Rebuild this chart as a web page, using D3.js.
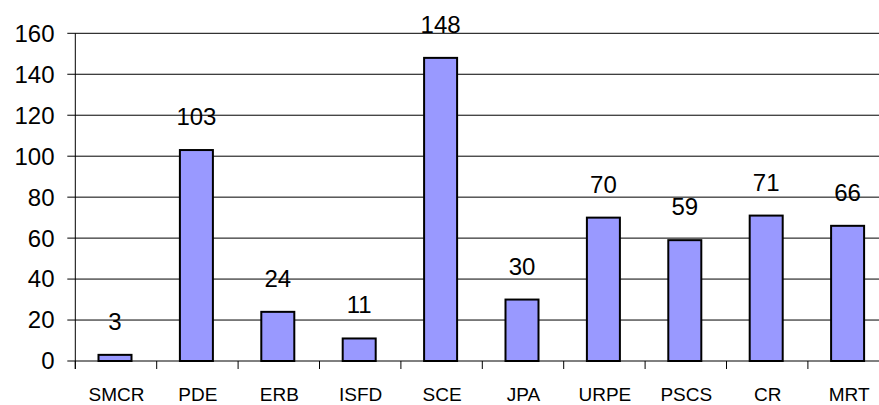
<!DOCTYPE html>
<html><head><meta charset="utf-8">
<script src="https://cdn.jsdelivr.net/npm/d3@7"></script>
<style>html,body{margin:0;padding:0;background:#fff;}svg{display:block;}</style>
</head><body>
<svg id="c" width="879" height="405"></svg>
<script>
const categories = ["SMCR","PDE","ERB","ISFD","SCE","JPA","URPE","PSCS","CR","MRT"];
const values = [3,103,24,11,148,30,70,59,71,66];
const yTicks = [0,20,40,60,80,100,120,140,160];

const svg = d3.select("#c");
const font = "'Liberation Sans', Arial, Helvetica, sans-serif";
const x = d3.scaleBand().domain(categories).range([75.3, 889.3]).padding(0);
const y = d3.scaleLinear().domain([0,160]).range([361, 33.3]);
const left = x.range()[0];
const right = x.range()[1];

// gridlines
svg.append("g").selectAll("line").data(yTicks).join("line")
  .attr("x1", left - 8).attr("x2", right)
  .attr("y1", d => y(d)).attr("y2", d => y(d))
  .attr("stroke", "#000").attr("stroke-width", 1);

// y axis line
svg.append("line").attr("x1", left).attr("x2", left)
  .attr("y1", y(160)).attr("y2", y(0) + 8).attr("stroke", "#000");

// bottom ticks at band boundaries
const bounds = categories.map(c => x(c)).concat([right]);
svg.append("g").selectAll("line").data(bounds).join("line")
  .attr("x1", d => d).attr("x2", d => d)
  .attr("y1", y(0)).attr("y2", y(0) + 8).attr("stroke", "#000");

// y tick labels
svg.append("g").selectAll("text").data(yTicks).join("text")
  .attr("x", 54.5).attr("y", d => y(d)).attr("dy", "0.35em")
  .attr("text-anchor", "end").attr("font-family", font).attr("font-size", 24)
  .attr("fill", "#000").text(d => d);

// bars
const bw = 33;
const cx = d => x(d) + x.bandwidth() / 2 - 1;
svg.append("g").selectAll("rect").data(categories).join("rect")
  .attr("x", (d) => cx(d) - bw / 2)
  .attr("y", (d, i) => y(values[i]))
  .attr("width", bw)
  .attr("height", (d, i) => y(0) - y(values[i]))
  .attr("fill", "#9999FF").attr("stroke", "#000").attr("stroke-width", 2);

// value labels
svg.append("g").selectAll("text").data(categories).join("text")
  .attr("x", d => cx(d)).attr("y", (d, i) => y(values[i]) - 25)
  .attr("text-anchor", "middle").attr("font-family", font).attr("font-size", 24)
  .attr("fill", "#000").text((d, i) => values[i]);

// category labels
svg.append("g").selectAll("text").data(categories).join("text")
  .attr("x", d => x(d) + x.bandwidth() / 2 + 0.5).attr("y", 400.5)
  .attr("text-anchor", "middle").attr("font-family", font).attr("font-size", 19)
  .attr("fill", "#000").text(d => d);
</script>
</body></html>
